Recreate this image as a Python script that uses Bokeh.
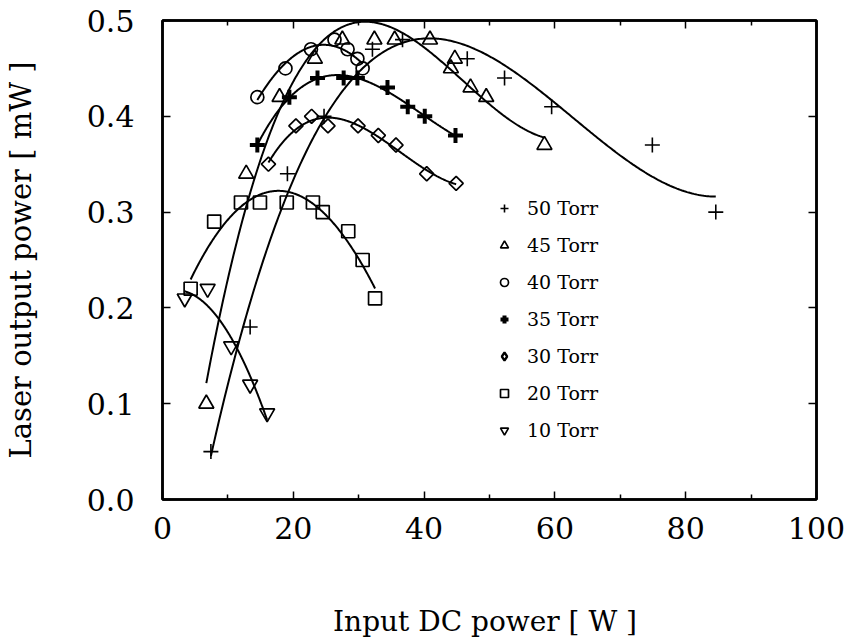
import numpy as np
from bokeh.plotting import figure
from bokeh.models import (Range1d, LinearAxis, FixedTicker, Legend, LegendItem,
                          CustomJSTickFormatter)
from bokeh.embed import file_html
from bokeh.resources import INLINE

# ---------------- data ----------------
series_labels = ["50 Torr", "45 Torr", "40 Torr", "35 Torr", "30 Torr", "20 Torr", "10 Torr"]

x50 = [7.4, 13.4, 19.1, 24.7, 32.1, 36.7, 46.6, 52.3, 59.5, 74.9, 84.6]
y50 = [0.05, 0.18, 0.34, 0.40, 0.47, 0.48, 0.46, 0.44, 0.41, 0.37, 0.30]

x45 = [6.7, 12.8, 17.9, 23.3, 27.5, 32.4, 35.5, 40.9, 44.1, 44.7, 47.1, 49.5, 58.4]
y45 = [0.10, 0.34, 0.42, 0.46, 0.48, 0.48, 0.48, 0.48, 0.45, 0.46, 0.43, 0.42, 0.37]

x40 = [14.5, 18.8, 22.7, 26.3, 28.3, 29.8, 30.6]
y40 = [0.42, 0.45, 0.47, 0.48, 0.47, 0.46, 0.45]

x35 = [14.5, 19.4, 23.7, 27.7, 29.8, 34.4, 37.5, 40.1, 44.8]
y35 = [0.37, 0.42, 0.44, 0.44, 0.44, 0.43, 0.41, 0.40, 0.38]

x30 = [16.2, 20.4, 22.8, 25.3, 29.9, 33.0, 35.7, 40.4, 44.9]
y30 = [0.35, 0.39, 0.40, 0.39, 0.39, 0.38, 0.37, 0.34, 0.33]

x20 = [4.3, 7.9, 12.0, 14.9, 19.0, 23.0, 24.5, 28.4, 30.6, 32.5]
y20 = [0.22, 0.29, 0.31, 0.31, 0.31, 0.31, 0.30, 0.28, 0.25, 0.21]

x10 = [3.4, 6.9, 10.5, 13.4, 16.0]
y10 = [0.21, 0.22, 0.16, 0.12, 0.09]

x_ticks = [0, 20, 40, 60, 80, 100]
x_minor_ticks = [10, 30, 50, 70, 90]
y_ticks = [0.0, 0.1, 0.2, 0.3, 0.4, 0.5]
y_tick_labels = ["0.0", "0.1", "0.2", "0.3", "0.4", "0.5"]

x_title = "Input DC power  [ W ]"
y_title = "Laser output power [ mW ]"

# ---------------- figure ----------------
FONT = "DejaVu Serif"

p = figure(width=851, height=642, output_backend="svg", toolbar_location=None,
           x_range=Range1d(0, 100), y_range=Range1d(0, 0.5),
           min_border_left=161, min_border_right=35, min_border_top=20,
           min_border_bottom=143)
p.background_fill_color = "white"
p.border_fill_color = "white"
p.outline_line_color = "black"
p.outline_line_width = 2.5
p.xgrid.visible = False
p.ygrid.visible = False

ax = p.xaxis[0]
ax.ticker = FixedTicker(ticks=x_ticks, minor_ticks=x_minor_ticks)
ay = p.yaxis[0]
ay.ticker = FixedTicker(ticks=y_ticks)
ay.major_label_overrides = {t: l for t, l in zip(y_ticks, y_tick_labels)}

for a in (ax, ay):
    a.axis_line_color = "black"
    a.axis_line_width = 2.5
    a.major_tick_in = 8
    a.major_tick_out = 0
    a.minor_tick_in = 5
    a.minor_tick_out = 0
    a.major_tick_line_width = 1.5
    a.minor_tick_line_width = 1.5
    a.major_label_text_font = FONT
    a.major_label_text_font_size = "30px"
    a.major_label_text_color = "black"
    a.axis_label_text_font = FONT
    a.axis_label_text_font_style = "normal"
    a.axis_label_text_color = "black"

ax.axis_label = x_title
ay.axis_label = y_title
ax.axis_label_text_font_size = "28px"
ay.axis_label_text_font_size = "29px"
ax.major_label_standoff = 17
ay.major_label_standoff = 28
ax.axis_label_standoff = 63
ay.axis_label_standoff = 46

# mirrored axes (ticks only)
blank = CustomJSTickFormatter(code="return ''")
top = LinearAxis(ticker=FixedTicker(ticks=x_ticks, minor_ticks=x_minor_ticks), formatter=blank)
right = LinearAxis(ticker=FixedTicker(ticks=y_ticks), formatter=blank)
for a in (top, right):
    a.axis_line_color = "black"
    a.axis_line_width = 2.5
    a.major_tick_in = 8
    a.major_tick_out = 0
    a.minor_tick_in = 5
    a.minor_tick_out = 0
    a.major_tick_line_width = 1.5
    a.minor_tick_line_width = 1.5
    a.major_label_standoff = 0
    a.major_label_text_font_size = "1px"
right.minor_tick_in = 0
p.add_layout(top, "above")
p.add_layout(right, "right")

# ---------------- data series ----------------
series = [
    (x50, y50, dict(marker="cross", size=15, line_width=1.6), None, 3),
    (x45, y45, dict(marker="triangle", size=15, line_width=1.7), None, 3),
    (x40, y40, dict(marker="circle", size=13, line_width=1.7), None, 2),
    (x35, y35, dict(marker="cross", size=15, line_width=4), None, 3),
    (x30, y30, dict(marker="square", size=10, angle=np.pi / 4, line_width=1.7), "diamond", 3),
    (x20, y20, dict(marker="square", size=13, line_width=1.7), None, 3),
    (x10, y10, dict(marker="inverted_triangle", size=15, line_width=1.7), None, 2),
]

items = []
for (xs, ys, style, legend_marker, deg), label in zip(series, series_labels):
    coef = np.polyfit(xs, ys, deg)
    xf = np.linspace(min(xs), max(xs), 300)
    p.line(xf, np.polyval(coef, xf), line_color="black", line_width=2)
    r = p.scatter(xs, ys, line_color="black", fill_color=None, **style)
    if legend_marker is None:
        items.append(LegendItem(label=label, renderers=[r]))
    else:
        # hidden twin used only as legend swatch (legend ignores marker angle)
        r_leg = p.scatter(xs, ys, marker=legend_marker, size=10,
                          line_color="black", fill_color=None,
                          line_width=style["line_width"] + 0.6, visible=False)
        items.append(LegendItem(label=label, renderers=[r_leg]))

legend = Legend(items=items, location=(332, 58), orientation="vertical",
                glyph_width=20, glyph_height=22, label_height=22, spacing=15,
                label_standoff=13, padding=0, margin=0,
                background_fill_alpha=0, border_line_alpha=0,
                inactive_fill_alpha=0,
                label_text_font=FONT, label_text_font_size="19px",
                label_text_color="black")
p.add_layout(legend)

open("out.html", "w").write(file_html(p, INLINE))
